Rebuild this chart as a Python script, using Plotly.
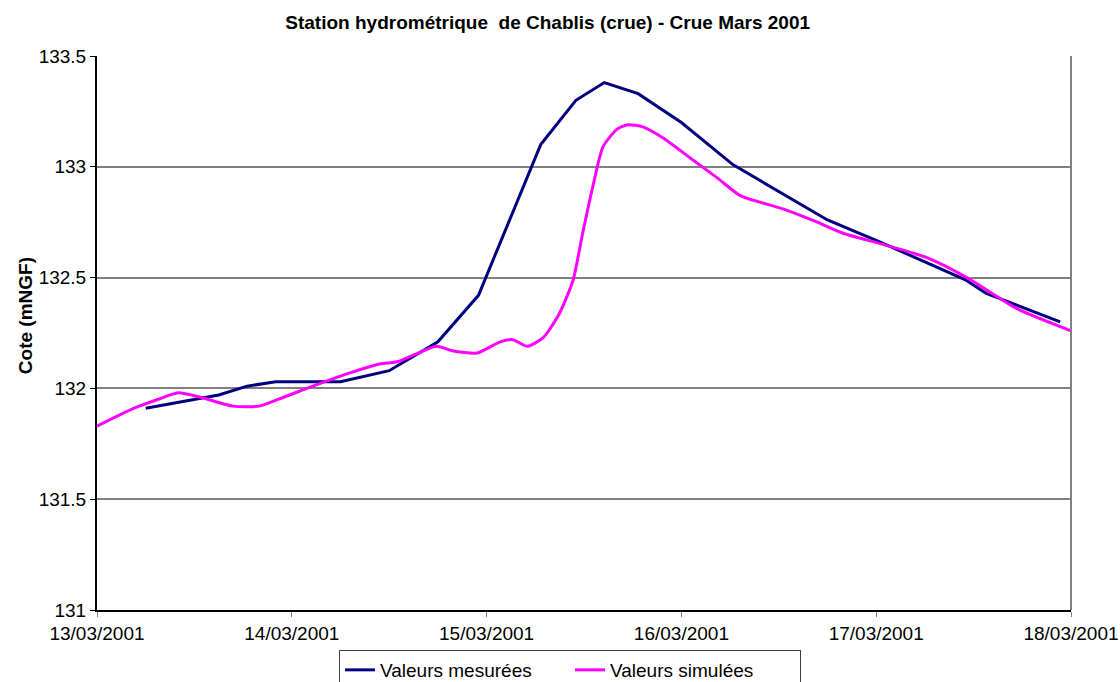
import plotly.graph_objects as go

# Measured water levels (mNGF) at the Chablis gauging station
measured_times = [
    "2001-03-13 06:00", "2001-03-13 15:00", "2001-03-13 18:30", "2001-03-13 22:00",
    "2001-03-14 06:00", "2001-03-14 12:00", "2001-03-14 18:00", "2001-03-14 23:00",
    "2001-03-15 06:40", "2001-03-15 11:00", "2001-03-15 14:30", "2001-03-15 18:40",
    "2001-03-16 00:00", "2001-03-16 06:20", "2001-03-16 18:00", "2001-03-17 00:30",
    "2001-03-17 11:00", "2001-03-17 13:30", "2001-03-17 22:40",
]
measured_values = [
    131.91, 131.97, 132.01, 132.03,
    132.03, 132.08, 132.21, 132.42,
    133.10, 133.30, 133.38, 133.33,
    133.20, 133.01, 132.76, 132.66,
    132.49, 132.43, 132.30,
]

# Simulated water levels (mNGF)
simulated_times = [
    "2001-03-13 00:00", "2001-03-13 04:30", "2001-03-13 07:30", "2001-03-13 10:00",
    "2001-03-13 12:45", "2001-03-13 16:45", "2001-03-13 20:00", "2001-03-13 23:00",
    "2001-03-14 01:50", "2001-03-14 06:20", "2001-03-14 10:50", "2001-03-14 13:00",
    "2001-03-14 17:50", "2001-03-14 19:45", "2001-03-14 22:50", "2001-03-15 01:40",
    "2001-03-15 03:15", "2001-03-15 05:00", "2001-03-15 07:00", "2001-03-15 09:00",
    "2001-03-15 10:40", "2001-03-15 11:50", "2001-03-15 13:05", "2001-03-15 14:20",
    "2001-03-15 16:05", "2001-03-15 17:25", "2001-03-15 19:15", "2001-03-15 21:45",
    "2001-03-16 01:05", "2001-03-16 04:25", "2001-03-16 07:15", "2001-03-16 12:30",
    "2001-03-16 16:45", "2001-03-16 19:55", "2001-03-17 00:50", "2001-03-17 06:15",
    "2001-03-17 11:10", "2001-03-17 17:20", "2001-03-18 00:00",
]
simulated_values = [
    131.83, 131.91, 131.95, 131.98,
    131.96, 131.92, 131.92, 131.96,
    132.00, 132.06, 132.11, 132.12,
    132.19, 132.17, 132.16, 132.21,
    132.22, 132.19, 132.23, 132.34,
    132.49, 132.70, 132.91, 133.09,
    133.17, 133.19, 133.18, 133.13,
    133.04, 132.95, 132.87, 132.81,
    132.75, 132.70, 132.65, 132.59,
    132.50, 132.36, 132.26,
]

x_tick_dates = ["2001-03-13", "2001-03-14", "2001-03-15", "2001-03-16", "2001-03-17", "2001-03-18"]
x_tick_labels = ["13/03/2001", "14/03/2001", "15/03/2001", "16/03/2001", "17/03/2001", "18/03/2001"]
y_tick_values = [131, 131.5, 132, 132.5, 133, 133.5]
y_tick_labels = ["131", "131.5", "132", "132.5", "133", "133.5"]

FONT = "Liberation Sans, Arial, sans-serif"

fig = go.Figure()
fig.add_trace(go.Scatter(
    x=measured_times, y=measured_values, mode="lines",
    name="Valeurs mesurées", line=dict(color="#000080", width=3),
))
fig.add_trace(go.Scatter(
    x=simulated_times, y=simulated_values, mode="lines",
    name="Valeurs simulées", line=dict(color="#FF00FF", width=3, shape="spline", smoothing=0.6),
))

# right border of the plot area
fig.add_shape(type="line", xref="paper", yref="paper", x0=1, x1=1, y0=0, y1=1,
              line=dict(color="#808080", width=2))

fig.add_annotation(
    text="<b>Cote (mNGF)</b>", textangle=-90, xref="paper", yref="paper",
    x=-0.074, y=0.532, xanchor="center", yanchor="middle", showarrow=False,
    font=dict(family=FONT, size=19, color="black"),
)

fig.update_layout(
    width=1120, height=682,
    margin=dict(l=97, r=49, t=56, b=72, autoexpand=False),
    paper_bgcolor="white", plot_bgcolor="white",
    font=dict(family=FONT, size=19, color="black"),
    title=dict(
        text="<b>Station hydrométrique  de Chablis (crue) - Crue Mars 2001</b>",
        x=0.489, xref="container", xanchor="center",
        y=1 - 22 / 682, yref="container", yanchor="middle",
        font=dict(family=FONT, size=19, color="black"),
    ),
    xaxis=dict(
        type="date", range=["2001-03-13", "2001-03-18"],
        tickmode="array", tickvals=x_tick_dates, ticktext=x_tick_labels,
        showgrid=False, zeroline=False,
        showline=True, linecolor="black", linewidth=2,
        ticks="outside", ticklen=5, tickcolor="#808080", tickwidth=1,
        tickfont=dict(family=FONT, size=19, color="black"),
    ),
    yaxis=dict(
        range=[131, 133.5],
        tickmode="array", tickvals=y_tick_values, ticktext=y_tick_labels,
        showgrid=True, gridcolor="#808080", gridwidth=1.5, zeroline=False,
        showline=True, linecolor="black", linewidth=2,
        ticks="outside", ticklen=5, tickcolor="black", tickwidth=1,
        tickfont=dict(family=FONT, size=19, color="black"),
    ),
    showlegend=True,
    legend=dict(
        orientation="h", xref="paper", yref="paper",
        x=(570 - 97) / 974, xanchor="center",
        y=(610 - 650) / 554, yanchor="top",
        bordercolor="#404040", borderwidth=1, bgcolor="white",
        font=dict(family=FONT, size=19, color="black"),
        itemwidth=30, entrywidth=185, entrywidthmode="pixels",
    ),
)

fig.write_html("out.html")
